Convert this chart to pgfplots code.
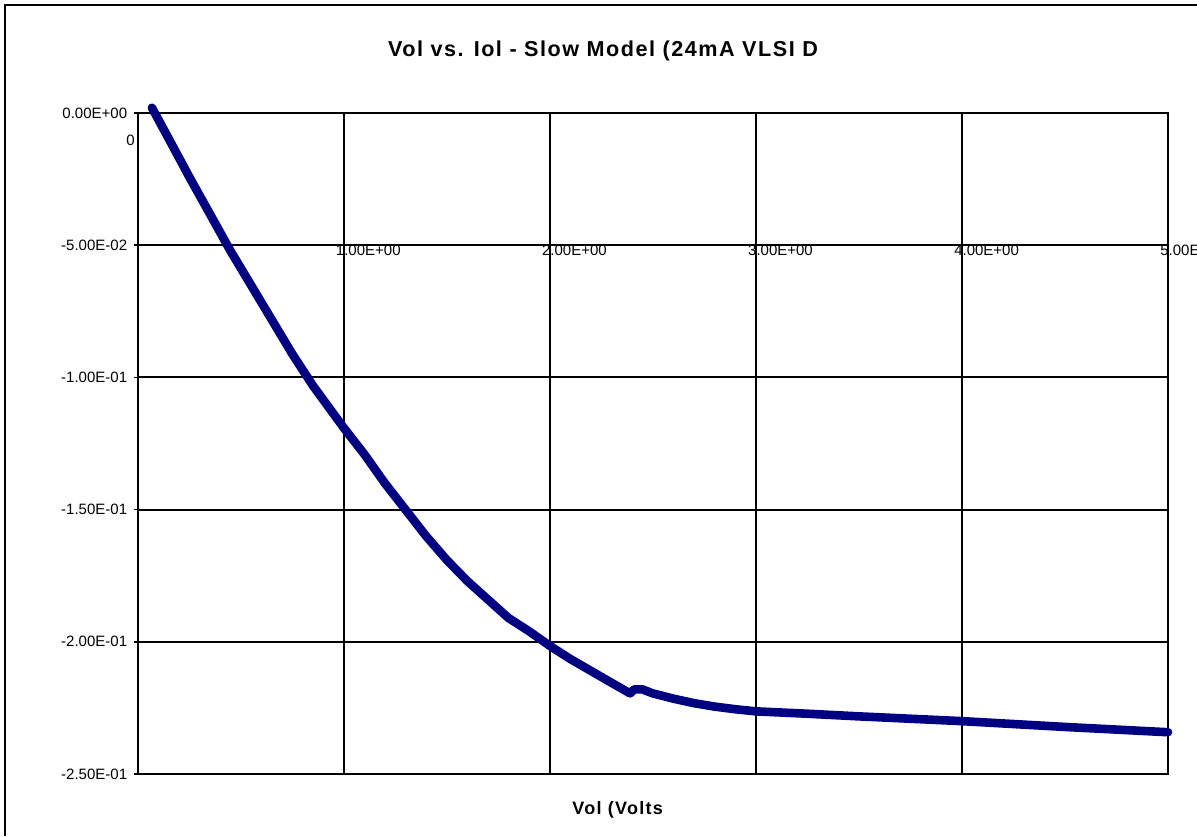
\documentclass[border=0pt]{standalone}
\usepackage{pgfplots}
\pgfplotsset{compat=1.18}
\usepackage{fontspec}
\setmainfont{Liberation Sans}
\newfontfamily\titlefont[LetterSpace=7]{Liberation Sans}
\definecolor{navy}{RGB}{0,0,128}
\pgfplotstableread{
x y
0.07 0.002
0.15 -0.0095
0.25 -0.024
0.35 -0.038
0.45 -0.052
0.55 -0.065
0.65 -0.078
0.75 -0.091
0.85 -0.103
1.00 -0.119
1.10 -0.129
1.20 -0.140
1.30 -0.150
1.40 -0.160
1.50 -0.169
1.60 -0.177
1.70 -0.184
1.80 -0.191
1.90 -0.196
2.00 -0.2015
2.10 -0.2065
2.20 -0.211
2.30 -0.2155
2.39 -0.2195
2.41 -0.2180
2.45 -0.2180
2.50 -0.2195
2.60 -0.2215
2.70 -0.2232
2.80 -0.2245
2.90 -0.2255
3.00 -0.2263
3.25 -0.2272
3.50 -0.2282
3.75 -0.2291
4.00 -0.2300
4.25 -0.2311
4.50 -0.2322
4.75 -0.2332
5.00 -0.2342
}\curve
\begin{document}
\begin{tikzpicture}[x=0.5pt,y=0.5pt]
\clip (0,0) rectangle (1197,836);
\draw[line width=1.2pt] (5,0) -- (5,831) -- (1197,831);
\begin{axis}[
  at={(68.75pt,31pt)}, anchor=south west,
  scale only axis, width=515.25pt, height=330.5pt,
  xmin=0, xmax=5, ymin=-0.25, ymax=0,
  xtick={0,1,2,3,4,5}, xticklabels={},
  ytick={-0.25,-0.2,-0.15,-0.1,-0.05,0},
  yticklabels={-2.50E-01,-2.00E-01,-1.50E-01,-1.00E-01,-5.00E-02,0.00E+00},
  grid=major, grid style={black, line width=1pt},
  axis line style={black, line width=1pt},
  xtick style={draw=none},
  ytick style={black, line width=0.8pt},
  ytick pos=left, tick align=outside, major tick length=2pt,
  yticklabel style={font=\fontsize{7.5}{8.5}\selectfont, inner sep=0pt, anchor=east, xshift=-3pt},
  clip=false,
]
\addplot[navy, line width=4.3pt, line join=round, line cap=round] table {\curve};
\node[anchor=east, inner sep=0pt, font=\fontsize{7.5}{8.5}\selectfont] at (axis cs:-0.012,-0.0102) {0};
\node[anchor=west, inner sep=0pt, font=\fontsize{7.5}{8.5}\selectfont] at (axis cs:0.961,-0.0518) {1.00E+00};
\node[anchor=west, inner sep=0pt, font=\fontsize{7.5}{8.5}\selectfont] at (axis cs:1.961,-0.0518) {2.00E+00};
\node[anchor=west, inner sep=0pt, font=\fontsize{7.5}{8.5}\selectfont] at (axis cs:2.961,-0.0518) {3.00E+00};
\node[anchor=west, inner sep=0pt, font=\fontsize{7.5}{8.5}\selectfont] at (axis cs:3.961,-0.0518) {4.00E+00};
\node[anchor=west, inner sep=0pt, font=\fontsize{7.5}{8.5}\selectfont] at (axis cs:4.961,-0.0518) {5.00E+00};
\end{axis}
\node[anchor=base, inner sep=0pt, font={\titlefont\bfseries\fontsize{10.8}{12}\selectfont}] at (603,779) {Vol vs. Iol - Slow Model (24mA VLSI D};
\node[anchor=base west, inner sep=0pt, font={\titlefont\bfseries\fontsize{9}{11}\selectfont}] at (572,22) {Vol (Volts};
\end{tikzpicture}
\end{document}
